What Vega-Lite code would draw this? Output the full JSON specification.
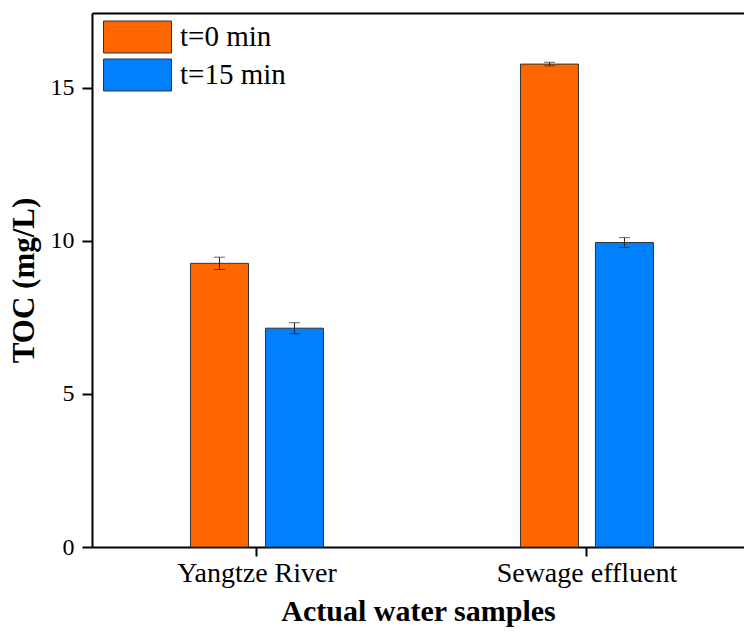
{
  "$schema": "https://vega.github.io/schema/vega-lite/v6.json",
  "autosize": {"type": "none"},
  "padding": {"left": 92, "top": 13, "right": 0, "bottom": 86},
  "width": 652,
  "height": 534,
  "background": "white",
  "config": {
    "font": "Liberation Serif",
    "view": {"stroke": null},
    "axis": {"domainColor": "black", "domainWidth": 2, "tickColor": "black", "tickWidth": 2, "labelColor": "black", "titleColor": "black", "grid": false}
  },
  "data": {
    "values": [
      {"sample": "Yangtze River", "time": "t=0 min", "toc": 9.27, "lo": 9.07, "hi": 9.47},
      {"sample": "Yangtze River", "time": "t=15 min", "toc": 7.15, "lo": 6.97, "hi": 7.33},
      {"sample": "Sewage effluent", "time": "t=0 min", "toc": 15.78, "lo": 15.72, "hi": 15.84},
      {"sample": "Sewage effluent", "time": "t=15 min", "toc": 9.95, "lo": 9.79, "hi": 10.11}
    ]
  },
  "resolve": {"axis": {"x": "independent"}},
  "layer": [
    {
      "mark": {"type": "bar", "stroke": "#333333", "strokeWidth": 1},
      "encoding": {
        "x": {
          "field": "sample", "type": "nominal", "sort": ["Yangtze River", "Sewage effluent"],
          "scale": {"paddingInner": 0.597, "paddingOuter": 0.2864, "align": 0.521},
          "axis": {"title": "Actual water samples", "titleFontSize": 30, "titleFontWeight": "bold", "titlePadding": 9, "labelFontSize": 28, "labelLimit": 400, "labelAngle": 0, "tickSize": 9, "labelPadding": 3, "domainWidth": 2}
        },
        "xOffset": {"field": "time", "type": "nominal", "sort": ["t=0 min", "t=15 min"], "scale": {"paddingInner": 0.2267, "paddingOuter": 0}},
        "y": {
          "field": "toc", "type": "quantitative",
          "scale": {"domain": [0, 17.45], "nice": false},
          "axis": {"title": "TOC (mg/L)", "titleFontSize": 31, "titleFontWeight": "bold", "titlePadding": 10, "labelFontSize": 24, "values": [0, 5, 10, 15], "tickSize": 10, "labelPadding": 8}
        },
        "color": {
          "field": "time", "type": "nominal", "sort": ["t=0 min", "t=15 min"],
          "scale": {"domain": ["t=0 min", "t=15 min"], "range": ["#FF6600", "#0080FF"]},
          "legend": {
            "title": null, "orient": "none", "legendX": 11, "legendY": 5,
            "symbolType": "M-1,-0.47H1V0.47H-1Z", "symbolSize": 4624,
            "symbolStrokeColor": "#333333", "symbolStrokeWidth": 1, "symbolOpacity": 1,
            "labelFontSize": 29, "labelLimit": 300, "labelColor": "black", "labelOffset": 8, "rowPadding": 0, "clipHeight": 38
          }
        }
      }
    },
    {
      "mark": {"type": "rule", "color": "#222222", "strokeWidth": 1},
      "encoding": {
        "x": {"field": "sample", "type": "nominal", "sort": ["Yangtze River", "Sewage effluent"],
          "axis": {"orient": "top", "labels": false, "ticks": false, "title": null, "domainWidth": 2}},
        "xOffset": {"field": "time", "type": "nominal", "sort": ["t=0 min", "t=15 min"]},
        "y": {"field": "lo", "type": "quantitative"},
        "y2": {"field": "hi"}
      }
    },
    {
      "mark": {"type": "tick", "color": "#222222", "thickness": 1, "size": 11},
      "encoding": {
        "x": {"field": "sample", "type": "nominal", "sort": ["Yangtze River", "Sewage effluent"], "axis": null},
        "xOffset": {"field": "time", "type": "nominal", "sort": ["t=0 min", "t=15 min"]},
        "y": {"field": "lo", "type": "quantitative"}
      }
    },
    {
      "mark": {"type": "tick", "color": "#222222", "thickness": 1, "size": 11},
      "encoding": {
        "x": {"field": "sample", "type": "nominal", "sort": ["Yangtze River", "Sewage effluent"], "axis": null},
        "xOffset": {"field": "time", "type": "nominal", "sort": ["t=0 min", "t=15 min"]},
        "y": {"field": "hi", "type": "quantitative"}
      }
    }
  ]
}
